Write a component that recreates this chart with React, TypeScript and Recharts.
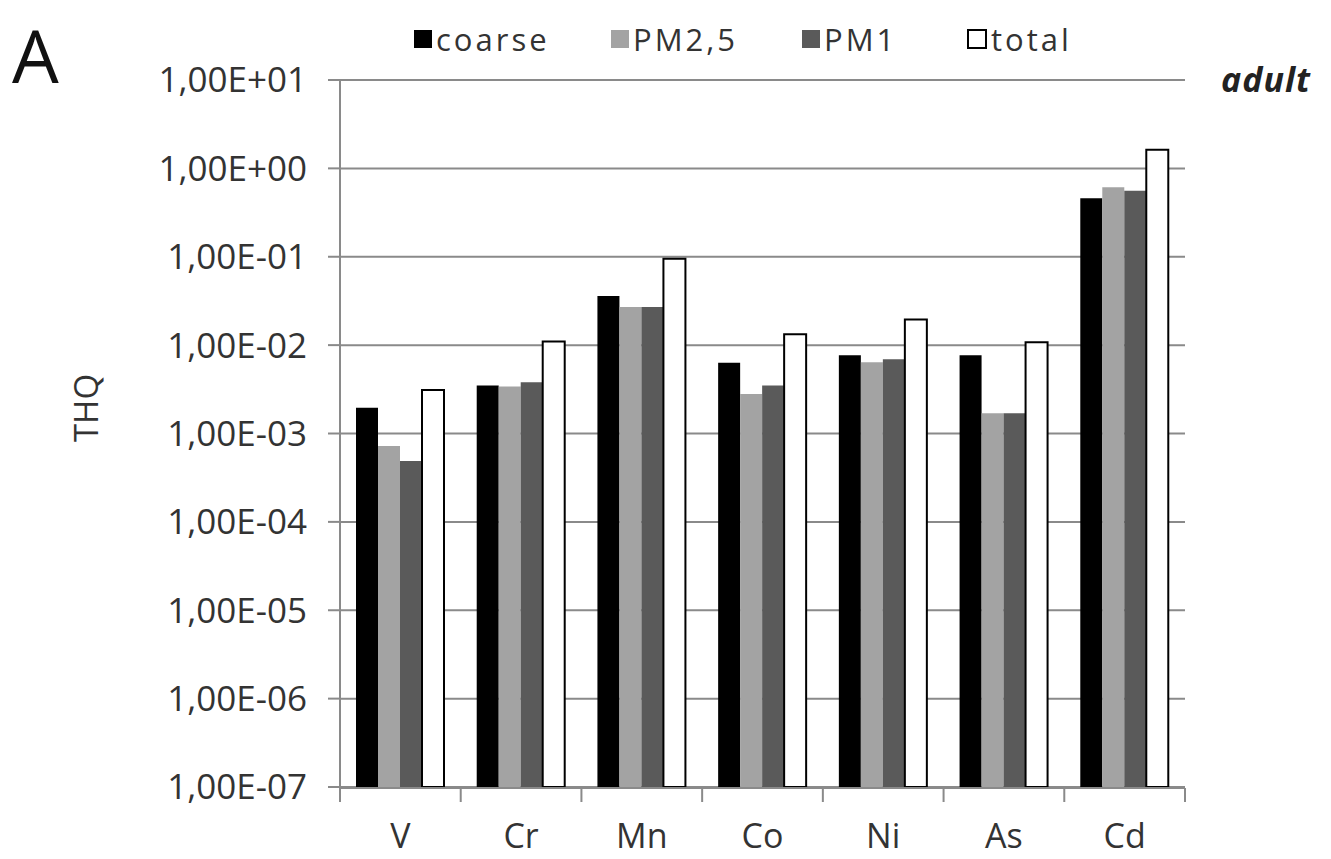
import { BarChart, Bar, XAxis, YAxis, CartesianGrid, Legend } from 'recharts'

const ELEMENTS = ['V', 'Cr', 'Mn', 'Co', 'Ni', 'As', 'Cd']

// THQ per size fraction (adult)
const COARSE = [1.95e-3, 3.5e-3, 3.6e-2, 6.3e-3, 7.7e-3, 7.7e-3, 0.46]
const PM25 = [7.2e-4, 3.4e-3, 2.7e-2, 2.8e-3, 6.4e-3, 1.7e-3, 0.61]
const PM1 = [4.9e-4, 3.8e-3, 2.7e-2, 3.5e-3, 6.9e-3, 1.7e-3, 0.56]
const TOTAL = [3.1e-3, 1.1e-2, 9.5e-2, 1.33e-2, 1.95e-2, 1.08e-2, 1.62]

const Y_TICKS = [1e-7, 1e-6, 1e-5, 1e-4, 1e-3, 1e-2, 1e-1, 1, 10]
const Y_TICK_LABELS = [
  '1,00E-07', '1,00E-06', '1,00E-05', '1,00E-04', '1,00E-03',
  '1,00E-02', '1,00E-01', '1,00E+00', '1,00E+01',
]

const SERIES = [
  { key: 'coarse', name: 'coarse', fill: '#000000', stroke: 'none' },
  { key: 'pm25', name: 'PM2,5', fill: '#a3a3a3', stroke: 'none' },
  { key: 'pm1', name: 'PM1', fill: '#5a5a5a', stroke: 'none' },
  { key: 'total', name: 'total', fill: '#ffffff', stroke: '#000000' },
]

const LEGEND_ITEM_WIDTHS = [197, 191, 165, 120]
const FONT = '"Open Sans", Arial, sans-serif'
const GRID = '#8a8a8a'

const data = ELEMENTS.map((el, i) => ({
  el,
  idx: i,
  coarse: COARSE[i],
  pm25: PM25[i],
  pm1: PM1[i],
  total: TOTAL[i],
}))

// category boundaries for the x-axis tick marks
const edgeTicks = ELEMENTS.map((_, i) => i).concat(ELEMENTS.length)

function LegendContent() {
  return (
    <div style={{ display: 'flex', alignItems: 'center', fontFamily: FONT, fontSize: 31, color: '#333', letterSpacing: 3 }}>
      {SERIES.map((s, i) => (
        <div key={s.key} style={{ display: 'flex', alignItems: 'center', width: LEGEND_ITEM_WIDTHS[i] }}>
          <span
            style={{
              display: 'inline-block',
              width: s.stroke === 'none' ? 18 : 16,
              height: s.stroke === 'none' ? 18 : 16,
              background: s.fill,
              border: s.stroke === 'none' ? 'none' : `2px solid ${s.stroke}`,
              marginRight: 4,
            }}
          />
          <span>{s.name}</span>
        </div>
      ))}
    </div>
  )
}

export default function App() {
  return (
    <div style={{ position: 'absolute', left: 0, top: 0, width: 1331, height: 859, background: '#fff' }}>
      <BarChart
        width={1331}
        height={859}
        data={data}
        margin={{ top: 80, right: 146, left: 0, bottom: 70 }}
        barGap={0}
        barSize={22}
      >
        <CartesianGrid vertical={false} stroke={GRID} strokeWidth={2} />
        <XAxis
          dataKey="el"
          height={1}
          axisLine={false}
          tickLine={false}
          tickSize={0}
          tickMargin={37}
          tick={{ fontSize: 34, fill: '#333', fontFamily: FONT }}
        />
        <XAxis
          xAxisId="edge"
          dataKey="idx"
          type="number"
          domain={[0, ELEMENTS.length]}
          allowDataOverflow
          ticks={edgeTicks}
          height={1}
          tickSize={14}
          tickFormatter={() => ''}
          stroke={GRID}
          strokeWidth={2}
          tickLine={{ stroke: GRID, strokeWidth: 2 }}
        />
        <YAxis
          scale="log"
          type="number"
          domain={[1e-7, 10]}
          ticks={Y_TICKS}
          allowDataOverflow
          width={340}
          tickSize={12}
          tickMargin={21}
          tickFormatter={(v: number) => Y_TICK_LABELS[Y_TICKS.indexOf(v)] ?? ''}
          tick={{ fontSize: 35, fill: '#333', fontFamily: FONT }}
          stroke={GRID}
          strokeWidth={2}
          label={{
            content: () => (
              <text
                x={85}
                y={408}
                transform="rotate(-90 85 408)"
                textAnchor="middle"
                dominantBaseline="central"
                fontSize={33}
                fill="#333"
                fontFamily={FONT}
              >
                THQ
              </text>
            ),
          }}
        />
        <Legend
          verticalAlign="middle"
          layout="horizontal"
          wrapperStyle={{ top: 18, left: 414, width: 720, height: 36 }}
          content={<LegendContent />}
        />
        {SERIES.map((s) => (
          <Bar
            key={s.key}
            dataKey={s.key}
            name={s.name}
            fill={s.fill}
            stroke={s.stroke}
            strokeWidth={s.stroke === 'none' ? 0 : 2}
            isAnimationActive={false}
          />
        ))}
      </BarChart>
      <div style={{ position: 'absolute', left: 12, top: 18, fontFamily: FONT, fontSize: 74, color: '#111', lineHeight: 1 }}>
        A
      </div>
      <div
        style={{
          position: 'absolute',
          left: 1221,
          top: 62,
          fontFamily: FONT,
          fontSize: 34,
          fontWeight: 700,
          fontStyle: 'italic',
          color: '#222',
          lineHeight: 1,
          letterSpacing: 1,
        }}
      >
        adult
      </div>
    </div>
  )
}
